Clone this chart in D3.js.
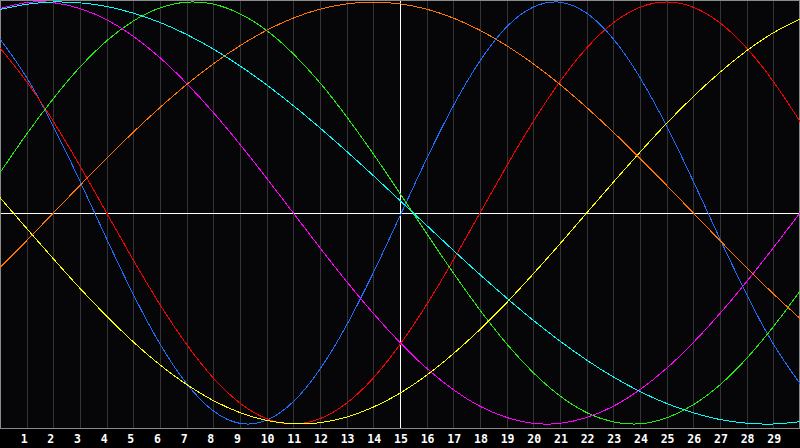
<!DOCTYPE html>
<html>
<head>
<meta charset="utf-8">
<script src="https://cdn.jsdelivr.net/npm/d3@7"></script>
<style>
  body { margin: 0; background: #000; }
  svg { display: block; }
</style>
</head>
<body>
<div id="plot"></div>
<script>
var width = 800;
var height = 448;
var plot_bottom = 428;

// days along the bottom (0 .. 30, labels only on 1 .. 29)
var days = d3.range(0, 31);
var day_labels = d3.range(1, 30);
var marker_day = 15;

// cycle values, percent (-100 .. 100), read at each day
var physical     = [82.5, 64.2, 41.1, 15.0, -12.3, -38.6, -62.1, -80.9, -93.8, -99.7, -98.2, -89.4, -74.0, -53.1, -28.3, -1.4, 25.7, 50.8, 72.1, 88.2, 97.6, 99.9, 94.7, 82.5, 64.2, 41.1, 15.0, -12.3, -38.6, -62.1, -80.9];
var emotional    = [78.2, 62.3, 43.4, 22.3, 0, -22.3, -43.4, -62.3, -78.2, -90.1, -97.5, -100, -97.5, -90.1, -78.2, -62.3, -43.4, -22.3, 0, 22.3, 43.4, 62.3, 78.2, 90.1, 97.5, 100, 97.5, 90.1, 78.2, 62.3, 43.4];
var intellectual = [19.1, 37.4, 54.2, 69.2, 81.6, 91.0, 97.2, 99.9, 99.0, 94.4, 86.5, 75.4, 61.7, 45.6, 28.0, 9.3, -9.7, -28.4, -46.0, -62.0, -75.7, -86.7, -94.6, -99.0, -99.9, -97.1, -90.9, -81.4, -68.9, -53.9, -37.0];
var intuitive    = [96.9, 99.7, 99.7, 96.9, 91.6, 83.7, 73.6, 61.4, 47.6, 32.5, 16.5, 0, -16.5, -32.5, -47.6, -61.4, -73.6, -83.7, -91.6, -96.9, -99.7, -99.7, -96.9, -91.6, -83.7, -73.6, -61.4, -47.6, -32.5, -16.5, 0];
var aesthetic    = [7.3, -7.3, -21.7, -35.7, -48.9, -61.1, -72.0, -81.3, -88.9, -94.6, -98.3, -99.9, -99.4, -96.7, -92.0, -85.4, -76.9, -66.7, -55.2, -42.5, -28.8, -14.6, 0, 14.6, 28.8, 42.5, 55.2, 66.7, 76.9, 85.4, 92.0];
var awareness    = [-25.9, -13.1, 0, 13.1, 25.9, 38.3, 50.0, 60.9, 70.7, 79.3, 86.6, 92.4, 96.6, 99.1, 100, 99.1, 96.6, 92.4, 86.6, 79.3, 70.7, 60.9, 50.0, 38.3, 25.9, 13.1, 0, -13.1, -25.9, -38.3, -50.0];
var spiritual    = [96.5, 98.9, 100, 99.6, 97.9, 94.7, 90.3, 84.6, 77.7, 69.7, 60.7, 50.9, 40.3, 29.2, 17.7, 5.9, -5.9, -17.7, -29.2, -40.3, -50.9, -60.7, -69.7, -77.7, -84.6, -90.3, -94.7, -97.9, -99.6, -100, -98.9];

var series_names  = ['physical', 'emotional', 'intellectual', 'intuitive', 'aesthetic', 'awareness', 'spiritual'];
var series_values = [physical, emotional, intellectual, intuitive, aesthetic, awareness, spiritual];
var series_colors = ['#1f6fff', '#ff0000', '#22ee11', '#ff00ff', '#ffff00', '#ff7700', '#00ffff'];

var canvas = d3.select('#plot')
    .append('svg')
    .attr('width', width)
    .attr('height', height);

canvas.append('rect')
    .attr('width', width)
    .attr('height', height)
    .attr('fill', '#000000');

var x = d3.scaleLinear()
    .domain([0, 30])
    .range([0, width]);

var y = d3.scaleLinear()
    .domain([-100, 100])
    .range([424, 2]);

// plot background + border
canvas.append('rect')
    .attr('x', 0.5)
    .attr('y', 0.5)
    .attr('width', width - 1)
    .attr('height', plot_bottom)
    .attr('fill', '#060609')
    .attr('stroke', '#8a8a8a')
    .attr('stroke-width', 1)
    .attr('shape-rendering', 'crispEdges');

// day grid lines
canvas.selectAll('line.grid')
    .data(day_labels.filter(function(d) { return d != marker_day; }))
    .enter()
    .append('line')
    .attr('class', 'grid')
    .attr('x1', function(d) { return Math.round(x(d)) + 0.5; })
    .attr('x2', function(d) { return Math.round(x(d)) + 0.5; })
    .attr('y1', 1)
    .attr('y2', plot_bottom)
    .attr('stroke', '#333335')
    .attr('stroke-width', 1)
    .attr('shape-rendering', 'crispEdges');

// zero line
canvas.append('line')
    .attr('x1', 1)
    .attr('x2', width - 1)
    .attr('y1', Math.round(y(0)) + 0.5)
    .attr('y2', Math.round(y(0)) + 0.5)
    .attr('stroke', '#ffffff')
    .attr('stroke-width', 1)
    .attr('shape-rendering', 'crispEdges');

// today line
canvas.append('line')
    .attr('x1', Math.round(x(marker_day)) + 0.5)
    .attr('x2', Math.round(x(marker_day)) + 0.5)
    .attr('y1', 1)
    .attr('y2', plot_bottom)
    .attr('stroke', '#ffffff')
    .attr('stroke-width', 1)
    .attr('shape-rendering', 'crispEdges');

// cycles
var line_gen = d3.line()
    .curve(d3.curveNatural)
    .x(function(d, i) { return x(days[i]); })
    .y(function(d) { return y(d); });

canvas.selectAll('path.cycle')
    .data(series_values)
    .enter()
    .append('path')
    .attr('class', 'cycle')
    .attr('data-name', function(d, i) { return series_names[i]; })
    .attr('d', line_gen)
    .attr('fill', 'none')
    .attr('stroke', function(d, i) { return series_colors[i]; })
    .attr('stroke-width', 1)
    .attr('shape-rendering', 'crispEdges');

// day labels
canvas.selectAll('text.day')
    .data(day_labels)
    .enter()
    .append('text')
    .attr('class', 'day')
    .attr('x', function(d) { return x(d) - 6; })
    .attr('y', 443)
    .attr('font-family', 'DejaVu Sans Mono, monospace')
    .attr('font-weight', 'bold')
    .attr('font-size', 11.5)
    .attr('fill', '#ffffff')
    .text(function(d) { return d; });
</script>
</body>
</html>
